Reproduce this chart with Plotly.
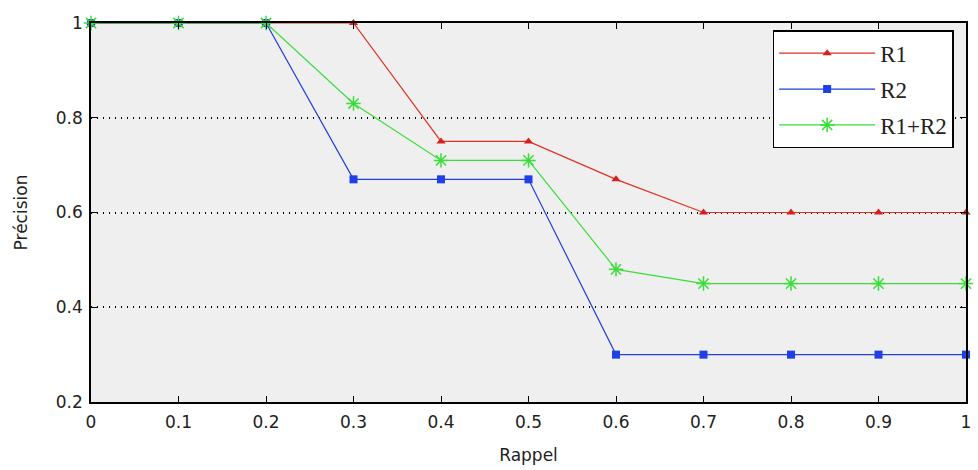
import plotly.graph_objects as go

rappel = [0, 0.1, 0.2, 0.3, 0.4, 0.5, 0.6, 0.7, 0.8, 0.9, 1.0]
r1 = [1, 1, 1, 1, 0.75, 0.75, 0.67, 0.6, 0.6, 0.6, 0.6]
r2 = [1, 1, 1, 0.67, 0.67, 0.67, 0.3, 0.3, 0.3, 0.3, 0.3]
r12 = [1, 1, 1, 0.83, 0.71, 0.71, 0.48, 0.45, 0.45, 0.45, 0.45]
xticks = [0, 0.1, 0.2, 0.3, 0.4, 0.5, 0.6, 0.7, 0.8, 0.9, 1]
xticklabels = ["0", "0.1", "0.2", "0.3", "0.4", "0.5", "0.6", "0.7", "0.8", "0.9", "1"]
yticks = [0.2, 0.4, 0.6, 0.8, 1]
yticklabels = ["0.2", "0.4", "0.6", "0.8", "1"]

fig = go.Figure()
fig.add_trace(go.Scatter(x=rappel, y=r1, name="R1", mode="lines+markers",
                         legendgroup="a", cliponaxis=False,
                         line=dict(color="#e0301e", width=1.2),
                         marker=dict(symbol="triangle-up", size=8, color="#d81e1e")))
fig.add_trace(go.Scatter(x=rappel, y=r2, name="R2", mode="lines+markers",
                         legendgroup="b", cliponaxis=False,
                         line=dict(color="#1f3fd8", width=1.2),
                         marker=dict(symbol="square", size=8, color="#1f3fe8")))
fig.add_trace(go.Scatter(x=rappel, y=r12, name="R1+R2", mode="lines+markers",
                         legendgroup="c", cliponaxis=False,
                         line=dict(color="#3ade3a", width=1.2),
                         marker=dict(symbol="asterisk-open", size=12,
                                     line=dict(color="#22dd22", width=1.5))))

fig.update_layout(
    width=978, height=470,
    margin=dict(l=91, r=7, t=23, b=68),
    paper_bgcolor="white",
    plot_bgcolor="#efefef",
    font=dict(family="DejaVu Sans", size=17, color="#222"),
    xaxis=dict(range=[0, 1], tickvals=xticks, ticktext=xticklabels,
               showgrid=False, zeroline=False, showline=True, mirror="ticks",
               linecolor="black", linewidth=1.5, ticks="inside", ticklen=6,
               tickcolor="black", ticklabelstandoff=4,
               title=dict(text="Rappel", font=dict(family="DejaVu Sans", size=17), standoff=18)),
    yaxis=dict(range=[0.2, 1], tickvals=yticks, ticktext=yticklabels,
               showgrid=True, gridcolor="black", griddash="1px,5px", gridwidth=1.5,
               zeroline=False, showline=True, mirror="ticks",
               linecolor="black", linewidth=1.5, ticks="inside", ticklen=6,
               tickcolor="black", ticklabelstandoff=3,
               title=dict(text="Précision", font=dict(family="DejaVu Sans", size=17), standoff=24)),
    legend=dict(x=0.779, y=0.981, xanchor="left", yanchor="top",
                bgcolor="white", bordercolor="black", borderwidth=1.5,
                font=dict(family="Liberation Serif", size=23, color="#222"),
                tracegroupgap=3, itemwidth=96),
    showlegend=True,
)

fig.write_html("out.html")
